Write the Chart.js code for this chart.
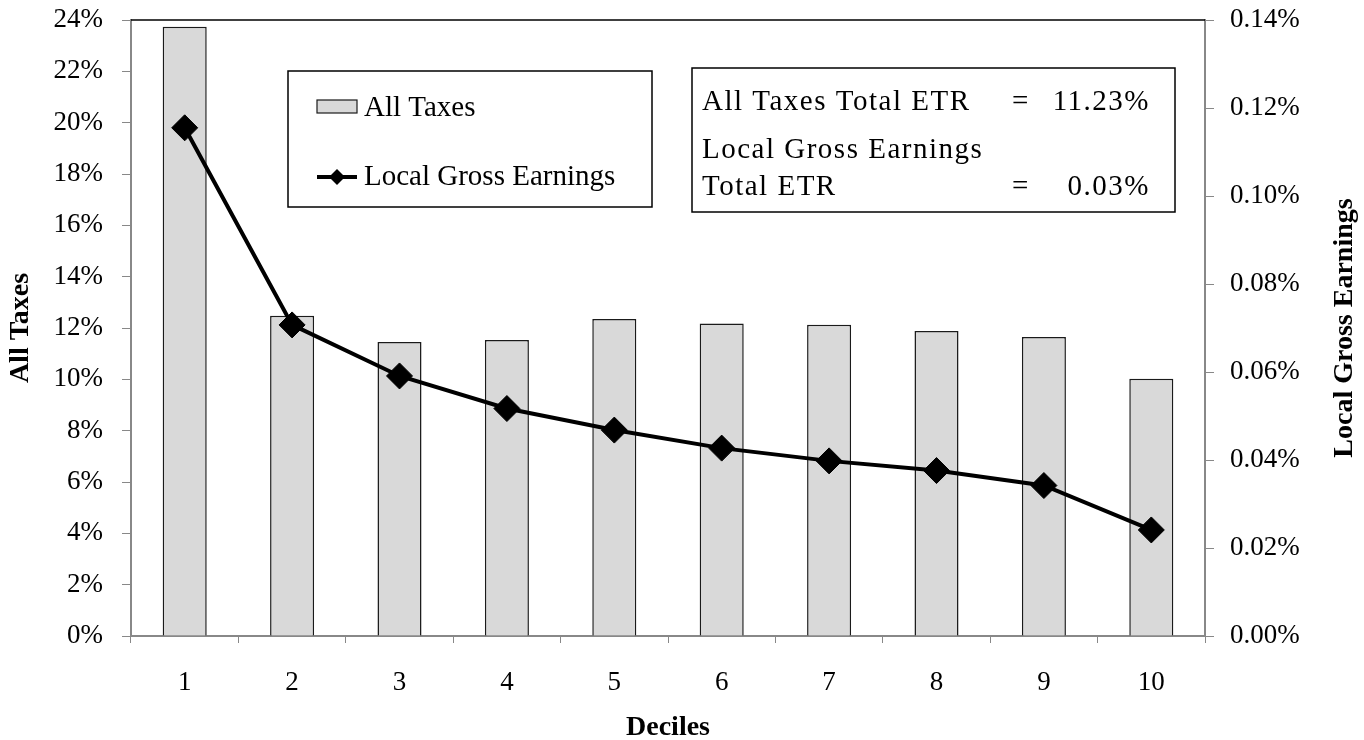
<!DOCTYPE html>
<html>
<head>
<meta charset="utf-8">
<title>All Taxes vs Local Gross Earnings by Decile</title>
<script src="https://cdn.jsdelivr.net/npm/chart.js@4/dist/chart.umd.min.js"></script>
<style>
    body { margin: 0; background: #fff; }
    canvas { display: block; }
</style>
</head>
<body>
<canvas id="etrChart" width="1364" height="740"></canvas>
<script>
// Data
const deciles = ['1', '2', '3', '4', '5', '6', '7', '8', '9', '10'];
const allTaxes = [23.74, 12.48, 11.45, 11.53, 12.35, 12.18, 12.13, 11.88, 11.65, 10.02];     // % (left axis)
const localGross = [0.1155, 0.0707, 0.0591, 0.0517, 0.0468, 0.0427, 0.0398, 0.0376, 0.0342, 0.0241]; // % (right axis)

const leftTicks = [0, 2, 4, 6, 8, 10, 12, 14, 16, 18, 20, 22, 24];
const rightTicks = [0, 0.02, 0.04, 0.06, 0.08, 0.10, 0.12, 0.14];

const totals = [
    { label: 'All Taxes Total ETR', value: '11.23%' },
    { label: 'Local Gross Earnings', label2: 'Total ETR', value: '0.03%' }
];

const FONT = '"Liberation Serif", "Times New Roman", serif';
const AXIS_GREY = '#888888';

// fixed axis box, no extra room for overflowing end labels
function fitBox(w, h) {
    return s => {
        if (w) s.width = w;
        if (h) s.height = h;
        s.paddingTop = 0;
        s.paddingBottom = 0;
        s.paddingLeft = 0;
        s.paddingRight = 0;
    };
}

// Legend box, totals box, top border and right axis title
const overlay = {
    id: 'overlay',
    afterDraw(chart) {
        const { ctx, chartArea: a } = chart;
        const bars = chart.data.datasets[0];
        const line = chart.data.datasets[1];
        ctx.save();

        // top edge of the plot area
        ctx.strokeStyle = '#000';
        ctx.lineWidth = 1.5;
        ctx.beginPath();
        ctx.moveTo(a.left, a.top);
        ctx.lineTo(a.right, a.top);
        ctx.stroke();

        // legend
        ctx.fillStyle = '#fff';
        ctx.fillRect(288, 71, 364, 136);
        ctx.strokeRect(288, 71, 364, 136);

        ctx.fillStyle = bars.backgroundColor;
        ctx.fillRect(317, 100, 40, 13);
        ctx.lineWidth = 1.2;
        ctx.strokeStyle = bars.borderColor;
        ctx.strokeRect(317, 100, 40, 13);

        ctx.strokeStyle = line.borderColor;
        ctx.lineWidth = 4;
        ctx.beginPath();
        ctx.moveTo(317, 177);
        ctx.lineTo(357, 177);
        ctx.stroke();
        ctx.fillStyle = line.pointBackgroundColor;
        ctx.beginPath();
        ctx.moveTo(337 - 8, 177);
        ctx.lineTo(337, 177 - 8);
        ctx.lineTo(337 + 8, 177);
        ctx.lineTo(337, 177 + 8);
        ctx.closePath();
        ctx.fill();

        ctx.fillStyle = '#000';
        ctx.font = '29px ' + FONT;
        ctx.textBaseline = 'middle';
        ctx.textAlign = 'left';
        ctx.fillText(bars.label, 364, 108);
        ctx.fillText(line.label, 364, 177);

        // totals box
        ctx.strokeStyle = '#000';
        ctx.lineWidth = 1.5;
        ctx.fillStyle = '#fff';
        ctx.fillRect(692, 68, 483, 144);
        ctx.strokeRect(692, 68, 483, 144);

        ctx.fillStyle = '#000';
        ctx.letterSpacing = '1.5px';
        ctx.fillText(totals[0].label, 702, 102);
        ctx.fillText(totals[1].label, 702, 150);
        ctx.fillText(totals[1].label2, 702, 187);
        ctx.fillText('=', 1012, 102);
        ctx.fillText('=', 1012, 187);
        ctx.textAlign = 'right';
        ctx.fillText(totals[0].value, 1150, 102);
        ctx.fillText(totals[1].value, 1150, 187);
        ctx.letterSpacing = '0px';

        // right axis title, reading bottom to top
        ctx.font = 'bold 28px ' + FONT;
        ctx.textAlign = 'center';
        ctx.translate(1345, (a.top + a.bottom) / 2);
        ctx.rotate(-Math.PI / 2);
        ctx.fillText('Local Gross Earnings', 0, 0);

        ctx.restore();
    }
};

new Chart(document.getElementById('etrChart'), {
    type: 'bar',
    data: {
        labels: deciles,
        datasets: [{
            type: 'bar',
            label: 'All Taxes',
            data: allTaxes,
            yAxisID: 'y',
            backgroundColor: '#d9d9d9',
            borderColor: '#1a1a1a',
            borderWidth: 1.5,
            barPercentage: 0.41,
            categoryPercentage: 1,
            order: 2
        }, {
            type: 'line',
            label: 'Local Gross Earnings',
            data: localGross,
            yAxisID: 'y1',
            borderColor: '#000',
            borderWidth: 4,
            pointStyle: 'rectRot',
            pointRadius: 13,
            pointBackgroundColor: '#000',
            pointBorderColor: '#000',
            pointBorderWidth: 1,
            tension: 0,
            order: 1
        }]
    },
    options: {
        responsive: false,
        animation: false,
        layout: { padding: { top: 20, left: 0, right: 0, bottom: 0 } },
        plugins: {
            legend: { display: false },
            tooltip: { enabled: false }
        },
        scales: {
            x: {
                afterFit: fitBox(0, 104),
                grid: { drawOnChartArea: false, drawTicks: true, tickLength: 7, color: AXIS_GREY, offset: true },
                border: { color: AXIS_GREY, width: 2 },
                ticks: { color: '#000', font: { family: FONT, size: 27 }, padding: 24 },
                title: {
                    display: true, text: 'Deciles', color: '#000',
                    font: { family: FONT, size: 28, weight: 'bold' },
                    padding: { top: 0, bottom: -5 }
                }
            },
            y: {
                position: 'left',
                min: 0, max: 24,
                afterFit: fitBox(131, 0),
                afterBuildTicks: s => { s.ticks = leftTicks.map(v => ({ value: v })); },
                grid: { drawOnChartArea: false, drawTicks: true, tickLength: 9, color: AXIS_GREY },
                border: { color: AXIS_GREY, width: 2 },
                ticks: {
                    color: '#000', font: { family: FONT, size: 27 }, padding: 19,
                    callback: v => v + '%'
                },
                title: {
                    display: true, text: 'All Taxes', color: '#000',
                    font: { family: FONT, size: 28, weight: 'bold' },
                    padding: { top: 4, bottom: 0 }
                }
            },
            y1: {
                position: 'right',
                min: 0, max: 0.14,
                afterFit: fitBox(159, 0),
                afterBuildTicks: s => { s.ticks = rightTicks.map(v => ({ value: v })); },
                grid: { drawOnChartArea: false, drawTicks: true, tickLength: 9, color: AXIS_GREY },
                border: { color: AXIS_GREY, width: 2 },
                ticks: {
                    color: '#000', font: { family: FONT, size: 27 }, padding: 16,
                    callback: v => v.toFixed(2) + '%'
                }
            }
        }
    },
    plugins: [overlay]
});
</script>
</body>
</html>
